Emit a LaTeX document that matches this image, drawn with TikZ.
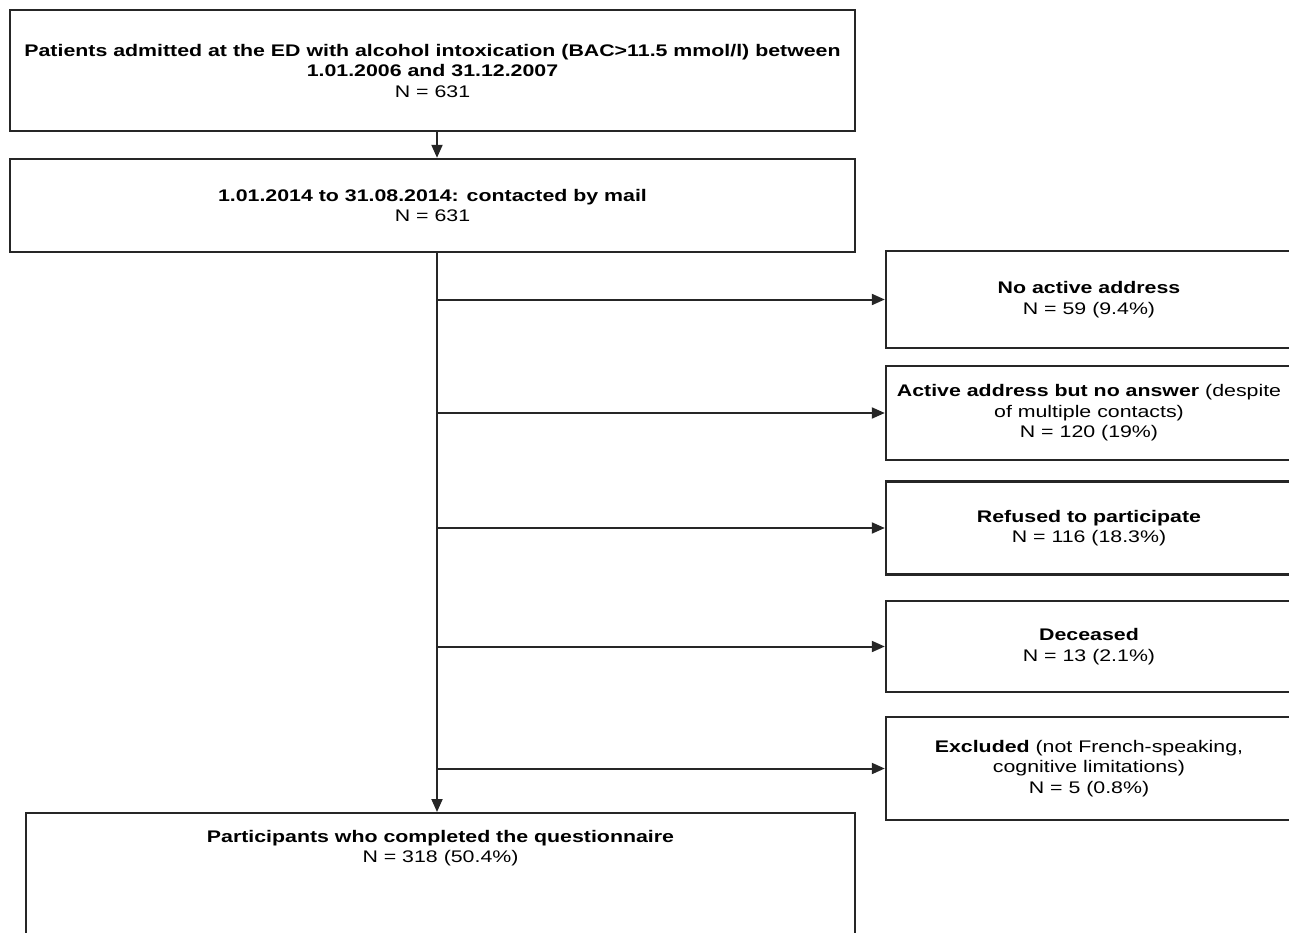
\documentclass[tikz,border=0pt]{standalone}
\usepackage{fontspec}
\setmainfont{Liberation Sans}[FakeStretch=1.27]
\usetikzlibrary{arrows.meta}

\begin{document}
\begin{tikzpicture}[x=1pt,y=-1pt,>={Triangle[length=13pt,width=11pt]}]
        \tikzstyle{box}=[rectangle,draw=black!85,line width=2.4pt,inner sep=0pt,align=center,font=\fontsize{16.8}{20.5}\selectfont]
        \tikzstyle{edge}=[draw=black!85,line width=2pt,->]
        \useasboundingbox (0,0) rectangle (1289,933);
       \begin{scope}
         \node [box,minimum width=845,minimum height=121] (adm) at (432.5,70.5)
           {\textbf{Patients admitted at the ED with alcohol intoxication (BAC>11.5 mmol/l) between}\\
            \textbf{1.01.2006 and 31.12.2007}\\ N = 631};
         \node [box,minimum width=845,minimum height=93] (mail) at (432.5,205.5)
           {\textbf{1.01.2014 to 31.08.2014: contacted by mail}\\ N = 631};
         \coordinate (trunk) at (437,252);

         \node [box,minimum width=406,minimum height=97] (b1) at (1089,299.5)
           {\textbf{No active address}\\ N = 59 (9.4\%)};
         \node [box,minimum width=406,minimum height=94] (b2) at (1089,413)
           {\textbf{Active address but no answer} (despite\\ of multiple contacts)\\ N = 120 (19\%)};
         \node [box,minimum width=406,minimum height=93] (b3) at (1089,528)
           {\textbf{Refused to participate}\\ N = 116 (18.3\%)};
         \node [box,minimum width=406,minimum height=91] (b4) at (1089,646.5)
           {\textbf{Deceased}\\ N = 13 (2.1\%)};
         \node [box,minimum width=406,minimum height=103] (b5) at (1089,768.5)
           {\textbf{Excluded} (not French-speaking,\\ cognitive limitations)\\ N = 5 (0.8\%)};

         \node [box,minimum width=829,minimum height=160,anchor=north] (part) at (440.5,812)
           {\textbf{Participants who completed the questionnaire}\\ N = 318 (50.4\%)\rule[-94pt]{0pt}{0pt}};

         \path[edge] ([xshift=4.5]adm.south) -- ([xshift=4.5]mail.north);
         \path[edge] (trunk) -- ([xshift=-3.5]part.north);
         \foreach \b in {b1,b2,b3,b4,b5}
           \path[edge] (trunk |- \b.west) -- (\b.west);
        \end{scope}
      \end{tikzpicture}
\end{document}
